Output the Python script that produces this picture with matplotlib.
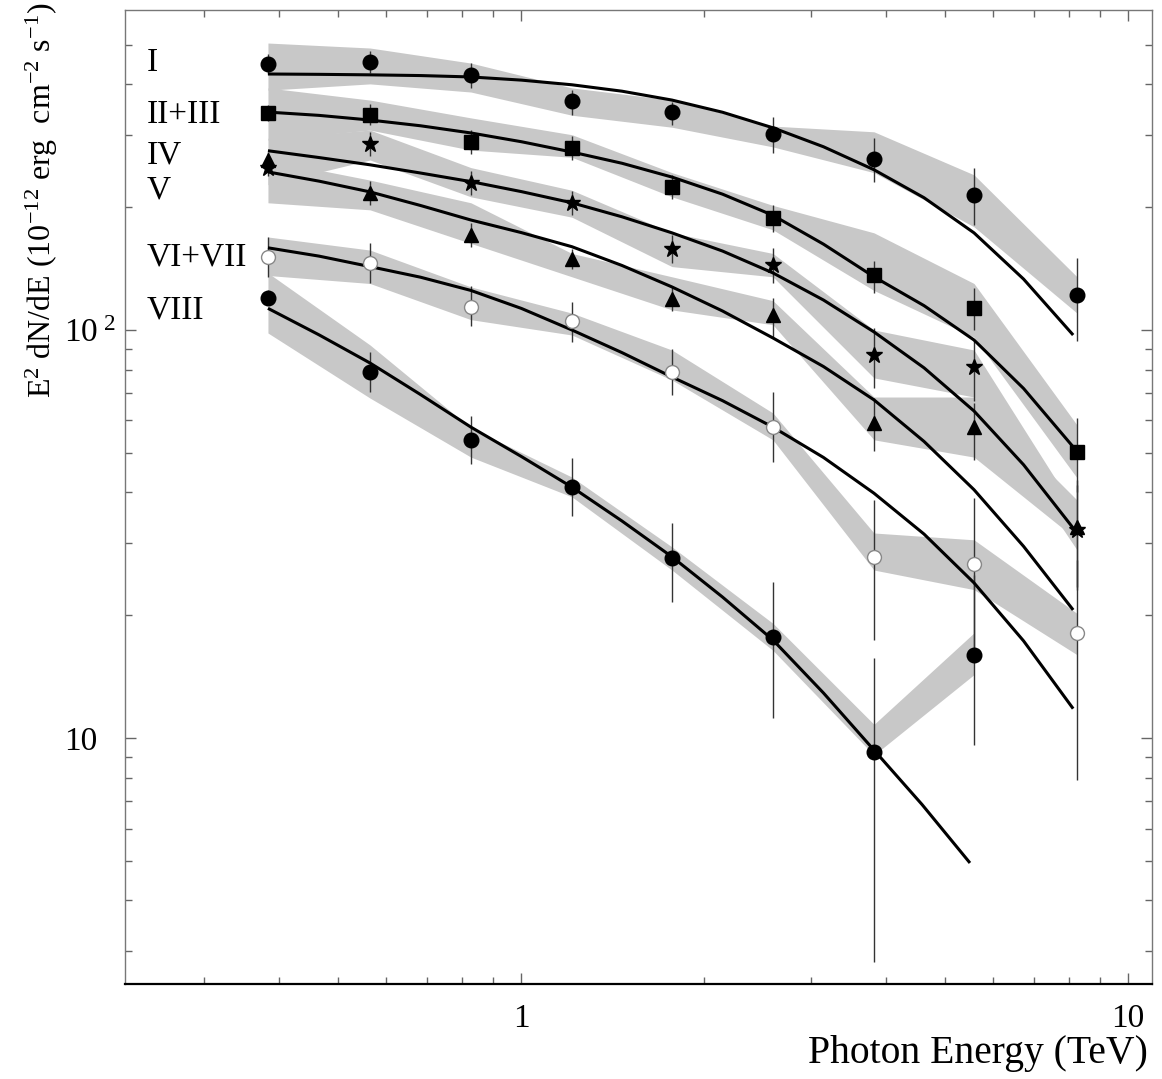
import numpy as np
import matplotlib
matplotlib.use("Agg")
import matplotlib.pyplot as plt
from matplotlib.ticker import FixedLocator, NullFormatter, FuncFormatter

plt.rcParams['font.family'] = ['Liberation Serif', 'DejaVu Serif']
plt.rcParams['mathtext.fontset'] = 'custom'
plt.rcParams['mathtext.rm'] = 'Liberation Serif'
plt.rcParams['mathtext.it'] = 'Liberation Serif:italic'
plt.rcParams['mathtext.default'] = 'regular'

# ---------------- data ----------------
energy = [0.383, 0.564, 0.827, 1.213, 1.773, 2.60, 3.815, 5.575, 8.24]
energy_VIII = energy[:8]

flux_I      = [449, 454, 422, 364, 342, 302, 262, 214, 122]
flux_II_III = [340, 337, 289, 279, 224, 188, 136, 113, 50.2]
flux_IV     = [250, 286, 229, 205, 158, 144, 86.9, 81.2, 32.4]
flux_V      = [261, 217, 171, 149, 119, 109, 59.2, 57.8, 32.9]
flux_VI_VII = [151, 146, 114, 105, 78.9, 57.8, 27.8, 26.7, 18.1]
flux_VIII   = [120, 78.9, 53.8, 41.2, 27.6, 17.7, 9.24, 16.0]

# error bar ends (upper / lower)
err_hi_I      = [475, 483, 452, 387, 362, 332, 295, 249, 150]
err_lo_I      = [424, 427, 392, 336, 318, 271, 230, 181, 94]
err_hi_II_III = [356, 357, 309, 298, 240, 203, 148, 127, 60.8]
err_lo_II_III = [325, 318, 270, 261, 209, 174, 123, 100, 40]
err_hi_IV     = [262, 306, 245, 219, 171, 159, 101, 94.5, 41.8]
err_lo_IV     = [239, 267, 214, 191, 146, 130, 72, 67, 23.1]
err_hi_V      = [273, 232, 183, 158, 128, 120, 68, 66.3, 43]
err_lo_V      = [250, 203, 160, 141, 111, 96, 50.6, 48, 23.5]
err_hi_VI_VII = [169, 163, 128, 117, 89.9, 70.4, 38.3, 38.7, 27.3]
err_lo_VI_VII = [135, 130, 102, 93.6, 69.3, 47.5, 17.4, 15.6, 7.9]
err_hi_VIII   = [125.5, 88.3, 61.6, 48.5, 33.6, 24.1, 15.7, 25.1]
err_lo_VIII   = [115, 70.5, 47, 35, 21.5, 11.2, 2.83, 9.6]

# systematic bands (upper / lower)
band_hi_I      = [505, 491, 451, 392, 366, 316, 306, 240, 135]
band_lo_I      = [387, 401, 383, 336, 314, 281, 243, 179, 110]
band_hi_II_III = [392, 366, 331, 301, 243, 202, 173, 130, 58.5]
band_lo_II_III = [292, 309, 276, 265, 212, 176, 125, 96, 43.4]
band_hi_IV     = [295, 309, 250, 220, 173, 154, 100, 89.3, 35.6]
band_lo_IV     = [227, 261, 212, 189, 143, 135, 76.3, 68.5, 28.9]
band_hi_V      = [261, 233, 205, 154, 135, 118, 68.5, 68.5, 38.3]
band_lo_V      = [205, 197, 163, 135, 112, 103, 53.8, 48.8, 30.6]
band_hi_VI_VII = [169, 157, 127.5, 110, 89.3, 62.6, 31.8, 30.6, 20.2]
band_lo_VI_VII = [136, 130, 106, 97.2, 75.4, 53.8, 25.8, 23.1, 16.0]
band_hi_VIII   = [138, 91.9, 57.5, 43.6, 29.4, 19.1, 10.8, 18.1]
band_lo_VIII   = [98.3, 68.1, 48.8, 39.0, 25.8, 16.4, 9.08, 14.3]

# fitted model curves
curve_energy = [0.383, 0.465, 0.564, 0.683, 0.827, 1.002, 1.213, 1.467, 1.773,
                2.148, 2.60, 3.15, 3.815, 4.613, 5.575, 6.727, 8.12]
curve_energy_VIII = [0.383, 0.465, 0.564, 0.683, 0.827, 1.002, 1.213, 1.467,
                     1.773, 2.148, 2.60, 3.15, 3.815, 4.577, 5.49]
fit_I      = [424, 423.2, 422, 420.3, 417, 409.6, 399, 384.8, 366, 341.7, 313,
              281.2, 247, 210.9, 173, 133.3, 97.2]
fit_II_III = [342, 335.7, 327, 316.6, 304, 289.3, 273, 256.2, 237, 215.2, 191,
              162.3, 135, 114.7, 94.5, 71.9, 51.7]
fit_IV     = [275, 264.6, 254, 242.5, 231, 218.3, 205, 189.4, 173, 156.1, 138,
              118.4, 98.9, 80.75, 63.3, 46.75, 32.7]
fit_V      = [244, 231.6, 218, 201.9, 186, 173.2, 160, 143.9, 127.5, 111.3, 95.6,
              81.35, 67.4, 53.3, 40.6, 29.5, 20.6]
fit_VI_VII = [159, 151.7, 143, 134.7, 125, 112.9, 100, 88.0, 76.7, 67.1, 57.8,
              48.7, 39.8, 31.6, 24.0, 17.3, 11.8]
fit_VIII   = [113, 97.27, 83, 69.47, 57.8, 48.94, 41.2, 34.02, 27.8, 22.15, 17.39,
              12.89, 9.34, 6.871, 4.94]

region_names = ['I', 'II+III', 'IV', 'V', 'VI+VII', 'VIII']
name_y       = [451, 337, 268, 220, 151, 112]

# ---------------- figure ----------------
fig = plt.figure(figsize=(11.62, 10.79), dpi=100)
ax = fig.add_axes([0.10757, 0.08805, 0.88382, 0.90269])
ax.set_xscale('log')
ax.set_yscale('log')
ax.set_xlim(0.2227, 10.95)
ax.set_ylim(2.495, 608.5)

series = [
    (energy, flux_I, err_lo_I, err_hi_I, band_lo_I, band_hi_I, curve_energy, fit_I,
     dict(marker='o', ms=10.5, mfc='black', mec='black')),
    (energy, flux_II_III, err_lo_II_III, err_hi_II_III, band_lo_II_III, band_hi_II_III,
     curve_energy, fit_II_III, dict(marker='s', ms=10, mfc='black', mec='black')),
    (energy, flux_IV, err_lo_IV, err_hi_IV, band_lo_IV, band_hi_IV, curve_energy, fit_IV,
     dict(marker='*', ms=12, mfc='black', mec='black')),
    (energy, flux_V, err_lo_V, err_hi_V, band_lo_V, band_hi_V, curve_energy, fit_V,
     dict(marker='^', ms=10, mfc='black', mec='black')),
    (energy, flux_VI_VII, err_lo_VI_VII, err_hi_VI_VII, band_lo_VI_VII, band_hi_VI_VII,
     curve_energy, fit_VI_VII, dict(marker='o', ms=10, mfc='white', mec='#888888', mew=1.0)),
    (energy_VIII, flux_VIII, err_lo_VIII, err_hi_VIII, band_lo_VIII, band_hi_VIII,
     curve_energy_VIII, fit_VIII, dict(marker='o', ms=10.5, mfc='black', mec='black')),
]

for e, f, lo, hi, blo, bhi, ce, fit, mk in series:
    ax.fill_between(e, blo, bhi, color='#c8c8c8', lw=0, zorder=1)
for e, f, lo, hi, blo, bhi, ce, fit, mk in series:
    f = np.asarray(f, float)
    yerr = [f - np.asarray(lo, float), np.asarray(hi, float) - f]
    ax.errorbar(e, f, yerr=yerr, fmt='none', ecolor='#333333', elinewidth=1.0,
                capsize=0, zorder=2)
    ax.plot(ce, fit, color='black', lw=2.2, zorder=3, solid_capstyle='butt',
            solid_joinstyle='round')
    ax.plot(e, f, ls='none', zorder=4, **mk)

for name, yv in zip(region_names, name_y):
    ax.text(0.242, yv, name, fontsize=24, ha='left', va='center')

# ---------------- axes styling ----------------
ax.xaxis.set_major_locator(FixedLocator([1, 10]))
ax.xaxis.set_minor_locator(FixedLocator([0.3, 0.4, 0.5, 0.6, 0.7, 0.8, 0.9,
                                         2, 3, 4, 5, 6, 7, 8, 9]))
ax.xaxis.set_major_formatter(FuncFormatter(lambda v, p: '%d' % round(v)))
ax.xaxis.set_minor_formatter(NullFormatter())

ax.yaxis.set_major_locator(FixedLocator([10, 100]))
ax.yaxis.set_minor_locator(FixedLocator([3, 4, 5, 6, 7, 8, 9,
                                         20, 30, 40, 50, 60, 70, 80, 90,
                                         200, 300, 400, 500]))
ax.yaxis.set_major_formatter(FuncFormatter(
    lambda v, p: '10' if round(v) == 10 else r'$10^{\ 2}$'))
ax.yaxis.set_minor_formatter(NullFormatter())

ax.tick_params(which='both', direction='in', top=True, right=True,
               color='#666666', labelsize=24)
ax.tick_params(which='major', length=8, width=1.0)
ax.tick_params(which='minor', length=5, width=1.0)
ax.tick_params(axis='x', pad=14)
ax.tick_params(axis='y', pad=44)
for lbl in ax.get_yticklabels():
    lbl.set_horizontalalignment('left')

for s in ['top', 'right', 'left']:
    ax.spines[s].set_color('#777777')
    ax.spines[s].set_linewidth(1.0)
ax.spines['bottom'].set_color('black')
ax.spines['bottom'].set_linewidth(1.6)

ax.set_xlabel('Photon Energy (TeV)', fontsize=28.5, loc='right')
ax.xaxis.set_label_coords(0.996, -0.052)
ax.set_ylabel(r'E$^{2}$ dN/dE (10$^{-12}$ erg  cm$^{-2}$ s$^{-1}$)', fontsize=23,
              va='center')
ax.yaxis.set_label_coords(-0.081, 0.805)

fig.savefig('out.png', dpi=100)
